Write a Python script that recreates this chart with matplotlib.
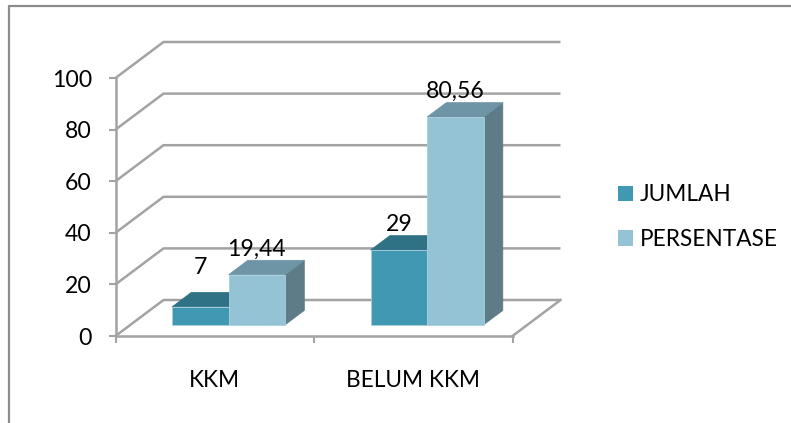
import matplotlib
matplotlib.use('Agg')
import matplotlib.pyplot as plt
from matplotlib.lines import Line2D
from matplotlib.patches import Polygon, Rectangle

categories = ['KKM', 'BELUM KKM']
jumlah = [7, 29]
persentase = [19.44, 80.56]
jumlah_labels = ['7', '29']
persentase_labels = ['19,44', '80,56']
y_ticks = [0, 20, 40, 60, 80, 100]

W, H = 791, 423
plt.rcParams['font.family'] = ['Lato', 'DejaVu Sans']

fig = plt.figure(figsize=(W / 100, H / 100), dpi=100)
fig.patch.set_facecolor('white')

# plot area in pixels of the picture
left, right, top, bottom = 115.5, 512.5, 78, 336
ax = fig.add_axes([left / W, 1 - bottom / H, (right - left) / W, (bottom - top) / H])
ax.set_xlim(0, len(categories))
ax.set_ylim(0, 100)
ax.patch.set_visible(False)

GREY = '#a3a3a3'
FS = 16.6
# size of the 3d depth, in data units
DX = 48 / ((right - left) / len(categories))
DY = 36 / ((bottom - top) / 100)
D0, D1 = 0.31, 0.71


def pt(x, y, d=0.0):
    return (x + d * DX, y + d * DY)


# walls and floor
for v in y_ticks:
    ax.plot(*zip(pt(0, v), pt(0, v, 1), pt(len(categories), v, 1)),
            color=GREY, lw=1.8, clip_on=False, zorder=1, solid_capstyle='butt')
ax.plot(*zip(pt(len(categories), 0), pt(len(categories), 0, 1)),
        color=GREY, lw=1.8, clip_on=False, zorder=1)


def box(x0, x1, h, front, side, topc, z):
    ax.add_patch(Polygon([pt(x1, 0, D0), pt(x1, 0, D1), pt(x1, h, D1), pt(x1, h, D0)],
                         fc=side, ec=side, lw=0.5, clip_on=False, zorder=z))
    ax.add_patch(Polygon([pt(x0, h, D0), pt(x1, h, D0), pt(x1, h, D1), pt(x0, h, D1)],
                         fc=topc, ec=topc, lw=0.5, clip_on=False, zorder=z))
    ax.add_patch(Polygon([pt(x0, 0, D0), pt(x1, 0, D0), pt(x1, h, D0), pt(x0, h, D0)],
                         fc=front, ec='#a9cfdc', lw=0.6, clip_on=False, zorder=z + 0.1))


def bar_label(x, h, text, lift=3.2):
    # centred over the front face, sits just above the back edge of the top
    ax.annotate(text, (pt(x, h, D0)[0], pt(x, h, D1)[1]), xytext=(0, lift), textcoords='offset points',
                ha='center', va='baseline', fontsize=FS, color='black', zorder=6,
                annotation_clip=False)


bar_w = 56.5 / ((right - left) / len(categories))
for i in range(len(categories)):
    c = i + 0.495
    box(c - bar_w, c, jumlah[i], '#4198b2', '#2f6f82', '#2f7285', 3)
    box(c, c + bar_w, persentase[i], '#94c3d6', '#5d7c88', '#6e95a5', 4)
    # the small bar's label sits higher in the original
    bar_label(c - bar_w / 2, jumlah[i], jumlah_labels[i], lift=13 if i == 0 else 3.2)
    bar_label(c + bar_w / 2, persentase[i], persentase_labels[i])

for s in ['top', 'right']:
    ax.spines[s].set_visible(False)
for s in ['left', 'bottom']:
    ax.spines[s].set_color(GREY)
    ax.spines[s].set_linewidth(1.8)
    ax.spines[s].set_zorder(2)

ax.set_yticks(y_ticks)
ax.set_yticklabels([str(v) for v in y_ticks], fontsize=FS)
ax.tick_params(axis='y', color=GREY, width=1.5, length=5, pad=12)
ax.set_xticks(range(len(categories) + 1))
ax.set_xticklabels([''] * (len(categories) + 1))
ax.tick_params(axis='x', color=GREY, width=1.5, length=5)
for i, name in enumerate(categories):
    ax.text(i + 0.5, -17.2, name, ha='center', va='center', fontsize=16.3)

# legend, placed on the figure
handles = [Rectangle((0, 0), 1, 1, fc='#4198b2'), Rectangle((0, 0), 1, 1, fc='#94c3d6')]
fig.legend(handles, ['JUMLAH', 'PERSENTASE'], loc='center left', bbox_to_anchor=(618 / W, 1 - 217 / H),
           frameon=False, fontsize=16.3, handlelength=0.66, handleheight=0.66, handletextpad=0.3,
           labelspacing=1.05, borderpad=0, borderaxespad=0)

# chart frame, only left and top show in the picture
fig.add_artist(Line2D([9 / W, 9 / W, 1], [0, 1 - 6 / H, 1 - 6 / H], transform=fig.transFigure,
                      color='#8c8c8c', lw=1.6))

fig.savefig('out.png', dpi=100)
